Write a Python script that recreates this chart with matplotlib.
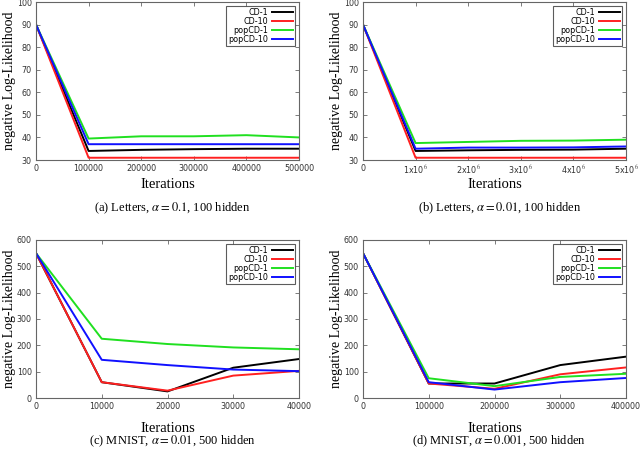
import matplotlib.pyplot as plt
from matplotlib.ticker import FixedLocator

# --- data ---
labels = ['CD-1', 'CD-10', 'popCD-1', 'popCD-10']
colors = ['black', '#ff2020', '#20e020', '#1010ff']

x_a = [0, 100000, 200000, 300000, 400000, 500000]
a_cd1 = [90, 34, 34.5, 34.8, 35, 35]
a_cd10 = [90, 31, 31, 31, 31, 31]
a_pop1 = [90, 39.5, 40.5, 40.5, 41, 40]
a_pop10 = [90, 37, 37, 37, 37, 37]

x_b = [0, 1e6, 2e6, 3e6, 4e6, 5e6]
b_cd1 = [90, 34, 34.3, 34.5, 34.6, 35]
b_cd10 = [90, 31, 31, 31, 31, 31]
b_pop1 = [90, 37.5, 38, 38.5, 38.6, 39]
b_pop10 = [90, 35, 35.5, 35.5, 35.6, 36]

x_c = [0, 10000, 20000, 30000, 40000]
c_cd1 = [550, 60, 25, 115, 148]
c_cd10 = [550, 60, 28, 85, 103]
c_pop1 = [550, 225, 205, 192, 185]
c_pop10 = [550, 145, 125, 108, 102]

x_d = [0, 100000, 200000, 300000, 400000]
d_cd1 = [550, 55, 55, 125, 157]
d_cd10 = [550, 55, 35, 90, 116]
d_pop1 = [550, 75, 45, 80, 92]
d_pop10 = [550, 60, 32, 60, 76]

xt_b = ['0', '1x10$^6$', '2x10$^6$', '3x10$^6$', '4x10$^6$', '5x10$^6$']

captions = [r'(a) Letters, $\alpha = 0.1$, 100 hidden',
            r'(b) Letters, $\alpha = 0.01$, 100 hidden',
            r'(c) MNIST, $\alpha = 0.01$, 500 hidden',
            r'(d) MNIST, $\alpha = 0.001$, 500 hidden']

plt.rcParams['mathtext.fontset'] = 'stix'
serif = 'Liberation Serif'

fig = plt.figure(figsize=(6.4, 4.51), dpi=100)
W, H = 640, 451


def make_ax(l, t, r, b):
    return fig.add_axes([l / W, 1 - b / H, (r - l) / W, (b - t) / H])


boxes = [(36, 2, 299, 160), (363, 2, 626, 160), (36, 240, 299, 398), (363, 240, 626, 398)]
panels = [
    (x_a, [a_cd1, a_cd10, a_pop1, a_pop10], (30, 100), range(30, 101, 10), None),
    (x_b, [b_cd1, b_cd10, b_pop1, b_pop10], (30, 100), range(30, 101, 10), xt_b),
    (x_c, [c_cd1, c_cd10, c_pop1, c_pop10], (0, 600), range(0, 601, 100), None),
    (x_d, [d_cd1, d_cd10, d_pop1, d_pop10], (0, 600), range(0, 601, 100), None),
]
cap_y = [208, 208, 441, 441]
xlab_y = [184, 184, 428, 428]

for i, (box, (xs, ys, ylim, yt, xtl)) in enumerate(zip(boxes, panels)):
    ax = make_ax(*box)
    for y, c, lab in zip(ys, colors, labels):
        ax.plot(xs, y, color=c, lw=1.4, label=lab)
    ax.set_xlim(xs[0], xs[-1])
    ax.set_ylim(*ylim)
    ax.xaxis.set_major_locator(FixedLocator(xs))
    ax.yaxis.set_major_locator(FixedLocator(list(yt)))
    if xtl is not None:
        ax.set_xticklabels(xtl)
    else:
        ax.set_xticklabels([str(int(v)) for v in xs])
    ax.tick_params(direction='in', top=True, right=True, labelsize=5.8,
                   labelcolor='#333333', color='#666666', length=3, width=0.6, pad=3)
    for s in ax.spines.values():
        s.set_color('#666666')
        s.set_linewidth(0.8)
    ax.set_ylabel('negative Log-Likelihood', family=serif, fontsize=10)
    ax.yaxis.set_label_coords(-0.075, 0.5)
    leg = ax.legend(loc='upper right', markerfirst=False, fontsize=5.8, frameon=True,
                    fancybox=False, edgecolor='#333333', borderpad=0.25, labelspacing=0.0,
                    handlelength=2.6, handletextpad=0.5, borderaxespad=0.5)
    leg.get_frame().set_linewidth(0.8)
    cx = (box[0] + box[2]) / 2
    fig.text(cx / W, 1 - xlab_y[i] / H, 'Iterations', family=serif, fontsize=10.5,
             ha='center', va='center')
    fig.text((cx + 5) / W, 1 - cap_y[i] / H, captions[i], family=serif, fontsize=9,
             ha='center', va='center')

fig.savefig('out.png', dpi=100)
